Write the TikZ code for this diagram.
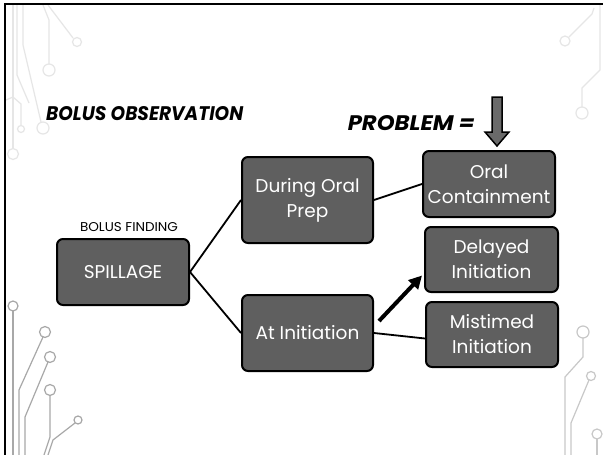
\documentclass[tikz,border=0pt]{standalone}
\usepackage{fontspec}
\setmainfont{Poppins}
\usetikzlibrary{arrows.meta,calc}
\definecolor{boxgray}{HTML}{5F5F5F}
\definecolor{arrowgray}{HTML}{6A6A6A}
\definecolor{circA}{HTML}{E6E6E6}
\definecolor{circB}{HTML}{A8A8A8}
\definecolor{circC}{HTML}{C8C8C8}
\tikzset{
  box/.style={draw=black, line width=2pt, rounded corners=6pt, fill=boxgray,
    text=white, align=center, inner sep=0pt,
    font=\fontsize{18.5}{25}\selectfont},
  link/.style={draw=black, line width=1.8pt},
  bigarrow/.style={draw=black, line width=4pt, -{Triangle[length=13pt,width=13pt]}},
  circuitA/.style={draw=circA, line width=1.2pt},
  circuitB/.style={draw=circB, line width=1.2pt},
  circuitC/.style={draw=circC, line width=1.2pt},
  heading/.style={inner sep=0pt, text=black}
}
\begin{document}
\begin{tikzpicture}[x=1pt,y=-1pt]
\useasboundingbox (0,0) rectangle (606,455);
\fill[white] (0,0) rectangle (606,455);

% circuit decorations: top left
\draw[circuitA] (13,5)--(13,148); \draw[circuitA] (13,154) circle (5.5);
\draw[circuitA] (23,5)--(23,45)--(41,122); \draw[circuitA] (43,128) circle (6);
\draw[circuitA] (17,5)--(17,75)--(29,103);
\draw[circuitA] (43,5)--(49,20)--(49,64); \draw[circuitA] (49,70) circle (6);
\draw[circuitA] (48,5)--(73,38); \draw[circuitA] (77,42) circle (4.5);
\draw[circuitA] (6,100)--(13,97)--(21,104)--(21,125); \draw[circuitA] (21,129) circle (3.5);
% bottom left
\draw[circuitB] (13,311)--(13,455); \draw[circuitB] (13,306) circle (5);
\draw[circuitB] (43,337)--(19,390)--(19,455); \draw[circuitB] (45,332) circle (5.5);
\draw[circuitB] (48,362)--(25,417)--(25,455); \draw[circuitB] (50,357) circle (5.5);
\draw[circuitB] (50,395.5)--(50,437)--(44,455); \draw[circuitB] (50,390) circle (5.5);
\draw[circuitB] (75,423)--(53,440)--(48,455); \draw[circuitB] (78,420) circle (4);
% top right
\draw[circuitA] (594,8)--(592,14)--(569,37); \draw[circuitA] (565,41) circle (5);
\draw[circuitA] (600,5)--(600,70)--(582,88)--(582,107); \draw[circuitA] (582,113) circle (6);
% bottom right
\draw[circuitC] (583,338)--(583,357)--(565,377)--(565,455); \draw[circuitC] (583,332) circle (6);
\draw[circuitC] (589,380)--(571,423)--(571,455); \draw[circuitC] (591,376) circle (4.5);
\draw[circuitC] (597,439)--(597,455); \draw[circuitC] (597,434) circle (5);

% frame
\draw[black, line width=2.5pt] (5,455)--(5,4)--(603,4);

% headings
\node[heading, anchor=west] (title) at (46,114)
  {\resizebox{197pt}{14pt}{\bfseries\itshape BOLUS OBSERVATION}};
\node[heading, anchor=east] (problem) at (475,123)
  {\resizebox{127pt}{15pt}{\bfseries\itshape PROBLEM =}};
\node[heading] (finding) at (129,227)
  {\resizebox{98pt}{9pt}{BOLUS FINDING}};

% boxes
\node[box, minimum width=132pt, minimum height=66pt] (spill) at (123,272) {SPILLAGE};
\node[box, minimum width=131pt, minimum height=86pt] (oralprep) at (307.5,200) {During Oral\\Prep};
\node[box, minimum width=131pt, minimum height=76pt] (atinit) at (307.5,333) {At Initiation};
\node[box, minimum width=132pt, minimum height=66pt] (oralcont) at (489,184) {Oral\\Containment};
\node[box, minimum width=133pt, minimum height=65pt] (delayed) at (491.5,259.5) {Delayed\\Initiation};
\node[box, minimum width=132pt, minimum height=65pt] (mistimed) at (492,334.5) {Mistimed\\Initiation};

% connectors
\draw[link] (spill.east) -- (oralprep.west);
\draw[link] (spill.east) -- (atinit.west);
\draw[link] (oralprep.east) -- (oralcont.west);
\draw[link] (atinit.east) -- ($(mistimed.west)+(0,4)$);
\draw[bigarrow] ($(atinit.east)+(5,-12)$) -- ($(delayed.west)+(-2,16)$);

% down block arrow
\draw[fill=arrowgray, draw=black, line width=1.5pt, line join=miter]
  (492,97) -- (502,97) -- (502,132) -- (509,132) -- (497,146) -- (485,132) -- (492,132) -- cycle;
\end{tikzpicture}
\end{document}
